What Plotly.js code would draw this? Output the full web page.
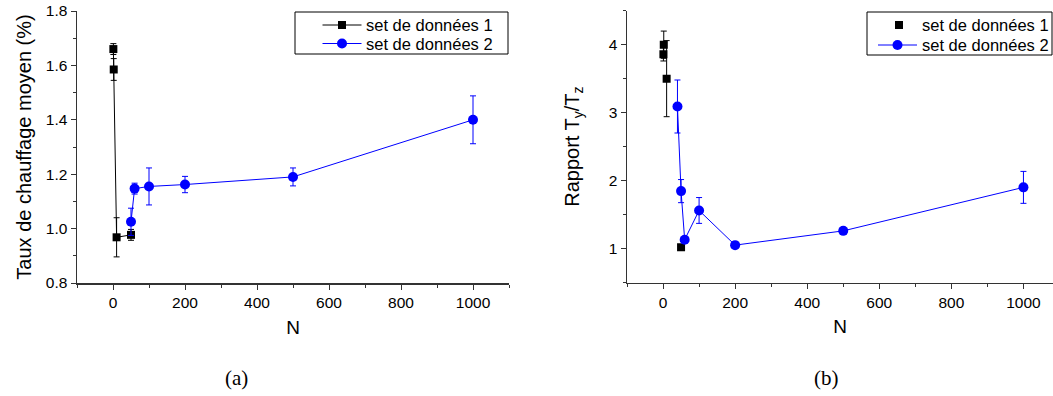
<!DOCTYPE html>
<html>
<head>
<meta charset="utf-8">
<script src="https://cdn.plot.ly/plotly-3.0.1.min.js"></script>
<style>html,body{margin:0;padding:0;background:#fff;}#chart{width:1053px;height:396px;}</style>
</head>
<body>
<div id="chart"></div>
<script>
// ----- data (a) -----
const set1_N = [1, 2, 10, 50];
const set1_a = [1.66, 1.585, 0.968, 0.977];
const set1_a_err = [0.02, 0.04, 0.072, 0.02];
const set2_N_a = [50, 60, 100, 200, 500, 1000];
const set2_a = [1.025, 1.147, 1.155, 1.162, 1.19, 1.40];
const set2_a_err = [0.05, 0.02, 0.068, 0.03, 0.033, 0.088];
// ----- data (b) -----
const set1_b = [3.86, 4.0, 3.5, 1.02];
const set1_b_err = [0.1, 0.2, 0.56, 0.03];
const set2_N_b = [40, 50, 60, 100, 200, 500, 1000];
const set2_b = [3.09, 1.845, 1.13, 1.56, 1.05, 1.26, 1.90];
const set2_b_err = [0.39, 0.17, 0.04, 0.19, 0.03, 0.05, 0.235];
const seriesNames = ['set de données 1', 'set de données 2'];
const captions = ['(a)', '(b)'];

const W = 1053, H = 396;
const BLUE = '#0000ff', BLACK = '#000000';
const F = 'Arial, "Liberation Sans", sans-serif';
const px = v => v / W, py = v => 1 - v / H;

function eb(arr, col){ return {type:'data', array:arr, visible:true, color:col, thickness:1, width:3}; }

const traces = [
  {x:set1_N, y:set1_a, name:seriesNames[0], mode:'lines+markers', xaxis:'x', yaxis:'y', showlegend:false,
   line:{color:BLACK, width:1}, marker:{symbol:'square', size:8, color:BLACK}, error_y:eb(set1_a_err, BLACK)},
  {x:set2_N_a, y:set2_a, name:seriesNames[1], mode:'lines+markers', xaxis:'x', yaxis:'y', showlegend:false,
   line:{color:BLUE, width:1}, marker:{symbol:'circle', size:10, color:BLUE}, error_y:eb(set2_a_err, BLUE)},
  {x:set1_N, y:set1_b, name:seriesNames[0], mode:'markers', xaxis:'x2', yaxis:'y2', showlegend:false,
   marker:{symbol:'square', size:8, color:BLACK}, error_y:eb(set1_b_err, BLACK)},
  {x:set2_N_b, y:set2_b, name:seriesNames[1], mode:'lines+markers', xaxis:'x2', yaxis:'y2', showlegend:false,
   line:{color:BLUE, width:1}, marker:{symbol:'circle', size:10, color:BLUE}, error_y:eb(set2_b_err, BLUE)}
];

const axCommon = {
  showgrid:false, zeroline:false, showline:true, linecolor:'#333', linewidth:1.5,
  ticks:'outside', ticklen:5, tickwidth:1, tickcolor:'#333',
  tickfont:{family:F, size:15.5, color:'#000'}, mirror:false
};
function xax(domain, range, anchor){
  return Object.assign({}, axCommon, {domain:domain, range:range, anchor:anchor, dtick:200, tick0:0,
    minor:{dtick:100, tick0:0, ticks:'outside', ticklen:3, tickcolor:'#333'},
    title:{text:'N', font:{family:F, size:19, color:'#000'}, standoff:10}});
}

// ----- manual legends (Origin style, compact rows) -----
const shapes = [], annotations = [];
function legendBox(x0, x1, y0, y1){
  shapes.push({type:'rect', xref:'paper', yref:'paper', x0:px(x0), x1:px(x1), y0:py(y1), y1:py(y0),
    line:{color:'#000', width:1}, fillcolor:'#fff', layer:'above'});
}
function legendLine(x0, x1, y, col){
  shapes.push({type:'line', xref:'paper', yref:'paper', x0:px(x0), x1:px(x1), y0:py(y), y1:py(y),
    line:{color:col, width:1}, layer:'above'});
}
function legendSquare(cx, cy, s, col){
  shapes.push({type:'rect', xref:'paper', yref:'paper', x0:px(cx - s/2), x1:px(cx + s/2), y0:py(cy + s/2), y1:py(cy - s/2),
    line:{width:0}, fillcolor:col, layer:'above'});
}
function legendCircle(cx, cy, d, col){
  shapes.push({type:'circle', xref:'paper', yref:'paper', x0:px(cx - d/2), x1:px(cx + d/2), y0:py(cy + d/2), y1:py(cy - d/2),
    line:{width:0}, fillcolor:col, layer:'above'});
}
function legendText(x, y, txt){
  annotations.push({text:txt, xref:'paper', yref:'paper', x:px(x), y:py(y), xanchor:'left', yanchor:'middle',
    showarrow:false, font:{family:F, size:16.5, color:'#000'}});
}
// legend (a)
legendBox(295, 508, 12, 54);
legendLine(322.5, 361.5, 25, BLACK); legendSquare(342, 25, 8, BLACK); legendText(363.5, 25, seriesNames[0]);
legendLine(322.5, 361.5, 43.5, BLUE); legendCircle(342, 43.5, 10, BLUE); legendText(363.5, 43.5, seriesNames[1]);
// legend (b)
legendBox(867, 1052, 12, 55);
legendSquare(899, 25, 8, BLACK); legendText(919.5, 25, seriesNames[0]);
legendLine(878, 917, 45, BLUE); legendCircle(897.5, 45, 10, BLUE); legendText(919.5, 45, seriesNames[1]);

// captions
annotations.push({text:captions[0], xref:'paper', yref:'paper', x:px(236), y:py(378), xanchor:'center', yanchor:'middle',
  showarrow:false, font:{family:'"Liberation Serif", "DejaVu Serif", serif', size:21, color:'#000'}});
annotations.push({text:captions[1], xref:'paper', yref:'paper', x:px(826), y:py(378), xanchor:'center', yanchor:'middle',
  showarrow:false, font:{family:'"Liberation Serif", "DejaVu Serif", serif', size:21, color:'#000'}});

const layout = {
  width:W, height:H, margin:{l:0, r:0, t:0, b:0},
  paper_bgcolor:'#fff', plot_bgcolor:'#fff', font:{family:F},
  xaxis: xax([px(77), px(509)], [-100, 1100], 'y'),
  yaxis: Object.assign({}, axCommon, {domain:[py(283), py(11)], range:[0.8, 1.8], anchor:'x',
    dtick:0.2, tick0:0.8, tickformat:'.1f',
    minor:{dtick:0.1, tick0:0.8, ticks:'outside', ticklen:3, tickcolor:'#333'},
    title:{text:'Taux de chauffage moyen (%)', font:{family:F, size:20, color:'#000'}, standoff:9}}),
  xaxis2: xax([px(627), 1], [-100, 1082], 'y2'),
  yaxis2: Object.assign({}, axCommon, {domain:[py(282.5), py(10.7)], range:[0.5, 4.5], anchor:'x2',
    dtick:1, tick0:0,
    minor:{dtick:0.5, tick0:0, ticks:'outside', ticklen:3, tickcolor:'#333'},
    title:{text:'Rapport T<sub>y</sub>/T<sub>z</sub>', font:{family:F, size:20, color:'#000'}, standoff:24}}),
  shapes:shapes,
  annotations:annotations,
  showlegend:false
};
Plotly.newPlot('chart', traces, layout, {staticPlot:true, displayModeBar:false});
</script>
</body>
</html>
